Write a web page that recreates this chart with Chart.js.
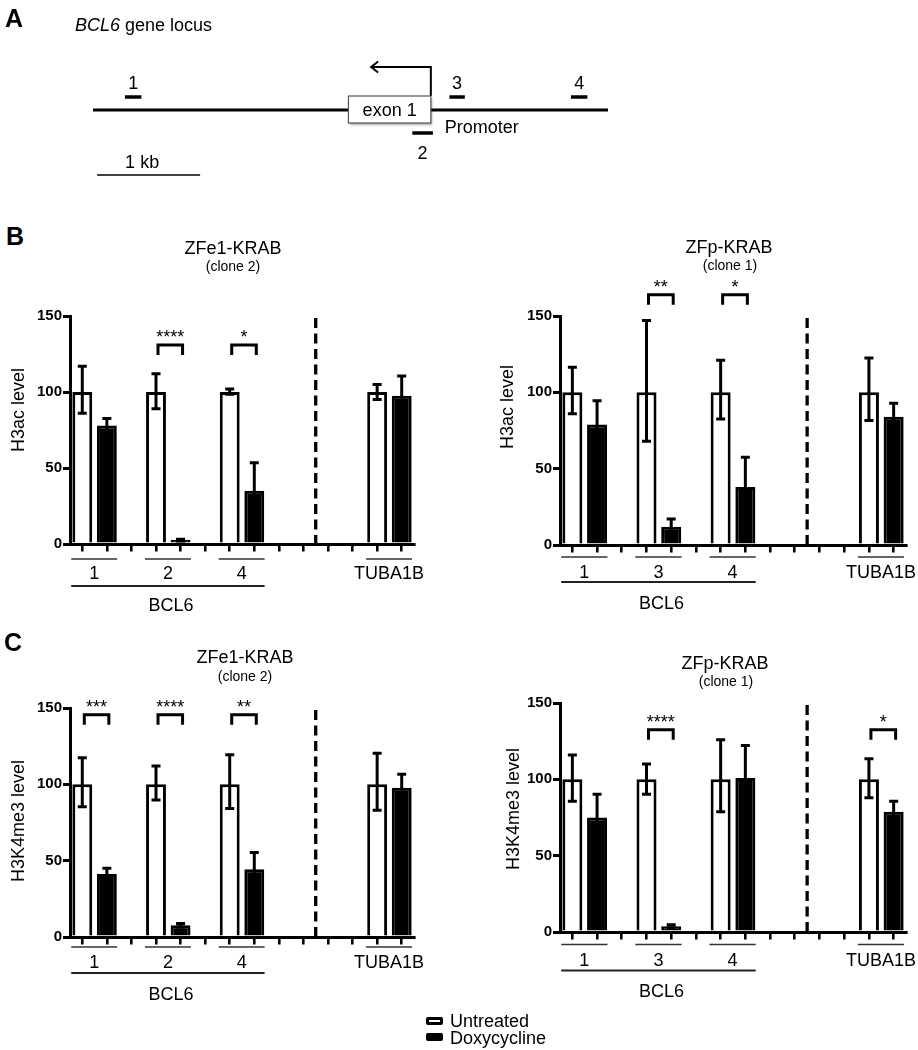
<!DOCTYPE html>
<html>
<head>
<meta charset="utf-8">
<script src="https://cdn.jsdelivr.net/npm/chart.js@4.4.1/dist/chart.umd.min.js"></script>
<style>
  html, body { margin: 0; padding: 0; background: #fff; }
  #fig { position: relative; width: 918px; height: 1050px; overflow: hidden;
         font-family: "Liberation Sans", Arial, Helvetica, sans-serif; color: #000; }
  #fig canvas { position: absolute; }
  .t { position: absolute; white-space: nowrap; transform: translate(-50%, -50%); line-height: 1; z-index: 2; }
  .l { position: absolute; white-space: nowrap; transform: translate(0, -50%); line-height: 1; z-index: 2; }
  .panel { font-weight: bold; font-size: 25px; }
  .title { font-size: 18px; }
  .sub { font-size: 14px; }
  .yt { position: absolute; white-space: nowrap; line-height: 1; font-size: 18px; z-index: 2;
        transform: translate(-50%, -50%) rotate(-90deg); }
  .box { position: absolute; width: 17px; height: 8px; box-sizing: border-box; border: 3px solid #000; border-radius: 2px; z-index: 2; }
</style>
</head>
<body>
<div id="fig">
  <div class="l panel" style="left:5px; top:18px;">A</div>
  <div class="l title" style="left:75px; top:25px;"><i>BCL6</i> gene locus</div>

  <div class="l panel" style="left:6px; top:236px;">B</div>
  <div class="t title" style="left:233px; top:248px;">ZFe1-KRAB</div>
  <div class="t sub" style="left:233px; top:266px;">(clone 2)</div>
  <div class="t title" style="left:729px; top:247px;">ZFp-KRAB</div>
  <div class="t sub" style="left:730px; top:265px;">(clone 1)</div>
  <div class="yt" style="left:18px; top:410px;">H3ac level</div>
  <div class="yt" style="left:507px; top:407px;">H3ac level</div>

  <div class="l panel" style="left:4px; top:642px;">C</div>
  <div class="t title" style="left:245px; top:657px;">ZFe1-KRAB</div>
  <div class="t sub" style="left:245px; top:676px;">(clone 2)</div>
  <div class="t title" style="left:725px; top:663px;">ZFp-KRAB</div>
  <div class="t sub" style="left:726px; top:681px;">(clone 1)</div>
  <div class="yt" style="left:18px; top:821px;">H3K4me3 level</div>
  <div class="yt" style="left:513px; top:809px;">H3K4me3 level</div>

  <div class="box" style="left:426px; top:1017px; background:#fff;"></div>
  <div class="l title" style="left:450px; top:1021px;">Untreated</div>
  <div class="box" style="left:426px; top:1033px; background:#000;"></div>
  <div class="l title" style="left:450px; top:1038px;">Doxycycline</div>
</div>

<script>
// ================= DATA =================
// Panel A: BCL6 locus (kb from left end of drawn region)
const locusSpanKb = [0, 5];
const exonKb = [2.48, 3.28];
const exonLabel = 'exon 1';
const tssKb = 3.28;
const tssArrowTipKb = 2.70;
const ampliconNames = ['1', '2', '3', '4'];
const ampliconStartKb = [0.31, 3.10, 3.46, 4.64];
const ampliconEndKb = [0.47, 3.30, 3.61, 4.80];
const scaleBarKb = [0.04, 1.04];
const scaleBarLabel = '1 kb';
const promoterLabel = 'Promoter';

// Axis ticks shared by all bar panels
const yTicks = [0, 50, 100, 150];
const geneLabel = 'BCL6';
const geneGroupCount = 3; // first three amplicons belong to BCL6

// Panel B left: H3ac, ZFe1-KRAB (clone 2)
const bLeftGroups = ['1', '2', '4', 'TUBA1B'];
const bLeftUntreated = [100, 100, 100, 100];
const bLeftUntreatedErrUp = [17, 12, 2, 5];
const bLeftUntreatedErrDown = [14, 11, 1.5, 5];
const bLeftDox = [78, 2.6, 35, 97.6];
const bLeftDoxErr = [4.5, 0.6, 18.5, 13];
const bLeftSig = ['', '****', '*', ''];

// Panel B right: H3ac, ZFp-KRAB (clone 1)
const bRightGroups = ['1', '3', '4', 'TUBA1B'];
const bRightUntreated = [100, 100, 100, 100];
const bRightUntreatedErrUp = [16.5, 47, 21, 22.5];
const bRightUntreatedErrDown = [14, 32, 17.5, 18.5];
const bRightDox = [79, 12, 38, 84];
const bRightDoxErr = [15.5, 5, 19.5, 8.8];
const bRightSig = ['', '**', '*', ''];

// Panel C left: H3K4me3, ZFe1-KRAB (clone 2)
const cLeftGroups = ['1', '2', '4', 'TUBA1B'];
const cLeftUntreated = [100, 100, 100, 100];
const cLeftUntreatedErrUp = [17.4, 12, 19.3, 20.4];
const cLeftUntreatedErrDown = [14.7, 10.3, 15.8, 17];
const cLeftDox = [41.3, 7.7, 44.4, 97.8];
const cLeftDoxErr = [3.7, 1.1, 11, 8.8];
const cLeftSig = ['***', '****', '**', ''];

// Panel C right: H3K4me3, ZFp-KRAB (clone 1)
const cRightGroups = ['1', '3', '4', 'TUBA1B'];
const cRightUntreated = [100, 100, 100, 100];
const cRightUntreatedErrUp = [16, 10, 26, 13.5];
const cRightUntreatedErrDown = [14.3, 9.8, 21.3, 12];
const cRightDox = [75, 3.7, 100.9, 78.7];
const cRightDoxErr = [15.2, 1.1, 21.3, 7];
const cRightSig = ['', '****', '', '*'];

// ================= LAYOUT =================
const FONT = '"Liberation Sans", Arial, Helvetica, sans-serif';
const SLOT_COUNT = 14;
const GROUP_SLOTS = [0, 3, 6, 12];
const SEPARATOR_SLOT = 9.5;
const PAD_TOP = 60, PAD_BOTTOM = 75, X_AXIS_H = 8, Y_AXIS_W = 70;

const panels = [
  { groups: bLeftGroups, untreated: bLeftUntreated, uUp: bLeftUntreatedErrUp, uDown: bLeftUntreatedErrDown,
    dox: bLeftDox, dErr: bLeftDoxErr, sig: bLeftSig,
    axisX: 70, areaRight: 414, areaTop: 316, areaBottom: 544, canvasRight: 460,
    bracketVal: 131, under: [15, 29, 42, 61] },
  { groups: bRightGroups, untreated: bRightUntreated, uUp: bRightUntreatedErrUp, uDown: bRightUntreatedErrDown,
    dox: bRightDox, dErr: bRightDoxErr, sig: bRightSig,
    axisX: 560, areaRight: 906, areaTop: 316, areaBottom: 545, canvasRight: 918,
    bracketVal: 164, under: [12, 27, 37, 58] },
  { groups: cLeftGroups, untreated: cLeftUntreated, uUp: cLeftUntreatedErrUp, uDown: cLeftUntreatedErrDown,
    dox: cLeftDox, dErr: cLeftDoxErr, sig: cLeftSig,
    axisX: 70, areaRight: 414, areaTop: 708, areaBottom: 937, canvasRight: 460,
    bracketVal: 145.5, under: [10, 25, 36, 57] },
  { groups: cRightGroups, untreated: cRightUntreated, uUp: cRightUntreatedErrUp, uDown: cRightUntreatedErrDown,
    dox: cRightDox, dErr: cRightDoxErr, sig: cRightSig,
    axisX: 560, areaRight: 906, areaTop: 703, areaBottom: 932, canvasRight: 918,
    bracketVal: 132.5, under: [12.5, 28, 38.5, 59] }
];

const fig = document.getElementById('fig');

function toSlots(vals, offset) {
  const a = new Array(SLOT_COUNT).fill(null);
  vals.forEach((v, i) => { a[GROUP_SLOTS[i] + offset] = v; });
  return a;
}

function annotPlugin(p) {
  return {
    id: 'figAnnot',
    afterDatasetsDraw(chart) {
      const ctx = chart.ctx, xs = chart.scales.x, ys = chart.scales.y, area = chart.chartArea;
      const slotW = xs.getPixelForValue(1) - xs.getPixelForValue(0);
      ctx.save();
      ctx.strokeStyle = '#000';
      ctx.fillStyle = '#000';

      // dashed separator between BCL6 and TUBA1B
      const sx = xs.getPixelForValue(SEPARATOR_SLOT);
      ctx.setLineDash([10, 5.5]);
      ctx.lineWidth = 3.3;
      ctx.beginPath();
      ctx.moveTo(sx, ys.getPixelForValue(yTicks[yTicks.length - 1]) + 2);
      ctx.lineTo(sx, area.bottom);
      ctx.stroke();
      ctx.setLineDash([]);

      // error bars
      ctx.lineWidth = 3;
      const err = (x, v, up, down) => {
        const yT = ys.getPixelForValue(v + up);
        const yB = ys.getPixelForValue(Math.max(0, v - down));
        ctx.beginPath();
        ctx.moveTo(x, yT); ctx.lineTo(x, yB);
        ctx.moveTo(x - 4.5, yT); ctx.lineTo(x + 4.5, yT);
        ctx.moveTo(x - 4.5, yB); ctx.lineTo(x + 4.5, yB);
        ctx.stroke();
      };
      p.groups.forEach((g, i) => {
        const s = GROUP_SLOTS[i];
        err(xs.getPixelForValue(s), p.untreated[i], p.uUp[i], p.uDown[i]);
        err(xs.getPixelForValue(s + 1), p.dox[i], p.dErr[i], p.dErr[i]);
      });

      // significance brackets
      ctx.lineWidth = 3;
      ctx.lineJoin = 'miter';
      ctx.font = '18px ' + FONT;
      ctx.textAlign = 'center';
      ctx.textBaseline = 'alphabetic';
      const yB = ys.getPixelForValue(p.bracketVal);
      p.sig.forEach((s, i) => {
        if (!s) return;
        const x1 = xs.getPixelForValue(GROUP_SLOTS[i]) + 2;
        const x2 = xs.getPixelForValue(GROUP_SLOTS[i] + 1) + 2;
        ctx.beginPath();
        ctx.moveTo(x1, yB + 10); ctx.lineTo(x1, yB); ctx.lineTo(x2, yB); ctx.lineTo(x2, yB + 10);
        ctx.stroke();
        ctx.fillText(s, (x1 + x2) / 2, yB - 1.5);
      });

      // group underlines and labels
      const bottom = area.bottom;
      const spans = p.groups.map((g, i) => [
        xs.getPixelForValue(GROUP_SLOTS[i]) - 0.45 * slotW,
        xs.getPixelForValue(GROUP_SLOTS[i] + 1) + 0.42 * slotW
      ]);
      ctx.strokeStyle = '#333';
      ctx.lineWidth = 1.6;
      ctx.textBaseline = 'middle';
      spans.forEach(([a, b], i) => {
        ctx.beginPath();
        ctx.moveTo(a, bottom + p.under[0]); ctx.lineTo(b, bottom + p.under[0]);
        ctx.stroke();
        ctx.fillText(p.groups[i], (a + b) / 2, bottom + p.under[1] + 1);
      });
      const ga = spans[0][0], gb = spans[geneGroupCount - 1][1];
      ctx.strokeStyle = '#222';
      ctx.lineWidth = 1.8;
      ctx.beginPath();
      ctx.moveTo(ga, bottom + p.under[2]); ctx.lineTo(gb, bottom + p.under[2]);
      ctx.stroke();
      ctx.fillText(geneLabel, (ga + gb) / 2 + 3, bottom + p.under[3] + 1);
      ctx.restore();
    }
  };
}

panels.forEach((p) => {
  const cv = document.createElement('canvas');
  const left = p.axisX - Y_AXIS_W;
  const top = p.areaTop - PAD_TOP;
  const w = p.canvasRight - left;
  const h = (p.areaBottom - p.areaTop) + PAD_TOP + PAD_BOTTOM;
  cv.width = w; cv.height = h;
  cv.style.left = left + 'px'; cv.style.top = top + 'px';
  cv.style.width = w + 'px'; cv.style.height = h + 'px';
  fig.appendChild(cv);

  new Chart(cv, {
    type: 'bar',
    data: {
      labels: Array.from({ length: SLOT_COUNT }, (_, i) => 's' + i),
      datasets: [
        { label: 'Untreated', data: toSlots(p.untreated, 0), backgroundColor: '#fff', borderColor: '#000',
          borderWidth: 3, grouped: false, categoryPercentage: 1, barPercentage: 0.81 },
        { label: 'Doxycycline', data: toSlots(p.dox, 1), backgroundColor: '#000', borderColor: '#000',
          borderWidth: 3, grouped: false, categoryPercentage: 1, barPercentage: 0.81 }
      ]
    },
    options: {
      responsive: false, animation: false, devicePixelRatio: 1, events: [],
      layout: { padding: { top: PAD_TOP, bottom: PAD_BOTTOM - X_AXIS_H, left: 0, right: p.canvasRight - p.areaRight } },
      plugins: { legend: { display: false }, title: { display: false }, tooltip: { enabled: false } },
      scales: {
        x: {
          type: 'category', offset: true, z: 1,
          grid: { display: true, offset: false, drawOnChartArea: false, drawTicks: true, tickLength: 7.5, lineWidth: 2.6, color: '#000' },
          border: { display: true, width: 3, color: '#000' },
          ticks: { display: false },
          afterFit(s) { s.height = X_AXIS_H; }
        },
        y: {
          min: yTicks[0], max: yTicks[yTicks.length - 1], z: 1,
          ticks: { stepSize: yTicks[1] - yTicks[0], color: '#000', padding: 1,
                   font: { family: FONT, size: 15, weight: 'bold' } },
          grid: { drawOnChartArea: false, tickLength: 7, lineWidth: 3, color: '#000' },
          border: { display: true, width: 3, color: '#000' },
          afterFit(s) { s.width = Y_AXIS_W; }
        }
      }
    },
    plugins: [annotPlugin(p)]
  });
});

// ================= PANEL A (locus) =================
const LOCUS = { originX: 93, pxPerKb: 103, width: 918, height: 200,
  backboneY: 110, ampAboveY: 97, ampBelowY: 133, ampRow: ['above', 'below', 'above', 'above'],
  arrowY: 67, exonTop: 96, exonBottom: 123, scaleBarY: 175 };

(function () {
  const cv = document.createElement('canvas');
  cv.width = LOCUS.width; cv.height = LOCUS.height;
  cv.style.left = '0px'; cv.style.top = '0px';
  cv.style.width = LOCUS.width + 'px'; cv.style.height = LOCUS.height + 'px';
  fig.appendChild(cv);

  const seg = (pts, w) => ({ data: pts, showLine: true, borderColor: '#000', borderWidth: w,
    pointRadius: 0, tension: 0, borderCapStyle: 'butt', borderJoinStyle: 'miter', fill: false });
  const rowY = (i) => LOCUS.ampRow[i] === 'above' ? LOCUS.ampAboveY : LOCUS.ampBelowY;

  const datasets = [
    seg([{ x: locusSpanKb[0], y: LOCUS.backboneY }, { x: locusSpanKb[1], y: LOCUS.backboneY }], 3),
    ...ampliconNames.map((n, i) => seg([{ x: ampliconStartKb[i], y: rowY(i) }, { x: ampliconEndKb[i], y: rowY(i) }], 3.5)),
    seg([{ x: scaleBarKb[0], y: LOCUS.scaleBarY }, { x: scaleBarKb[1], y: LOCUS.scaleBarY }], 1.5),
    seg([{ x: tssKb, y: LOCUS.exonTop }, { x: tssKb, y: LOCUS.arrowY }, { x: tssArrowTipKb, y: LOCUS.arrowY }], 2)
  ];

  const locusPlugin = {
    id: 'locus',
    afterDatasetsDraw(chart) {
      const ctx = chart.ctx, xs = chart.scales.x, ys = chart.scales.y;
      ctx.save();
      // arrow head
      const tx = xs.getPixelForValue(tssArrowTipKb), ty = ys.getPixelForValue(LOCUS.arrowY);
      ctx.strokeStyle = '#000'; ctx.lineWidth = 2;
      ctx.beginPath();
      ctx.moveTo(tx + 7, ty - 5.5); ctx.lineTo(tx, ty); ctx.lineTo(tx + 7, ty + 5.5);
      ctx.stroke();
      // exon box
      const ex1 = xs.getPixelForValue(exonKb[0]), ex2 = xs.getPixelForValue(exonKb[1]);
      const ey1 = ys.getPixelForValue(LOCUS.exonTop), ey2 = ys.getPixelForValue(LOCUS.exonBottom);
      ctx.save();
      ctx.shadowColor = 'rgba(0,0,0,0.35)'; ctx.shadowOffsetX = 1.5; ctx.shadowOffsetY = 1.5; ctx.shadowBlur = 2;
      ctx.fillStyle = '#fff';
      ctx.fillRect(ex1, ey1, ex2 - ex1, ey2 - ey1);
      ctx.restore();
      ctx.strokeStyle = '#555'; ctx.lineWidth = 1.2;
      ctx.strokeRect(ex1, ey1, ex2 - ex1, ey2 - ey1);
      ctx.fillStyle = '#000';
      ctx.font = '18px ' + FONT;
      ctx.textAlign = 'center'; ctx.textBaseline = 'middle';
      ctx.fillText(exonLabel, (ex1 + ex2) / 2, (ey1 + ey2) / 2 + 1.5);
      // amplicon labels
      ampliconNames.forEach((n, i) => {
        const cx = (xs.getPixelForValue(ampliconStartKb[i]) + xs.getPixelForValue(ampliconEndKb[i])) / 2;
        const cy = LOCUS.ampRow[i] === 'above' ? ys.getPixelForValue(LOCUS.ampAboveY) - 13 : ys.getPixelForValue(LOCUS.ampBelowY) + 21;
        ctx.fillText(n, cx, cy);
      });
      // promoter label
      ctx.textAlign = 'left';
      ctx.fillText(promoterLabel, xs.getPixelForValue(tssKb) + 14, ys.getPixelForValue(LOCUS.backboneY) + 18);
      // scale bar label
      ctx.fillText(scaleBarLabel, xs.getPixelForValue(scaleBarKb[0]) + 28, ys.getPixelForValue(LOCUS.scaleBarY) - 12);
      ctx.restore();
    }
  };

  new Chart(cv, {
    type: 'scatter',
    data: { datasets },
    options: {
      responsive: false, animation: false, devicePixelRatio: 1, events: [],
      layout: { padding: 0 },
      plugins: { legend: { display: false }, tooltip: { enabled: false } },
      scales: {
        x: { type: 'linear', display: false, min: -LOCUS.originX / LOCUS.pxPerKb, max: (LOCUS.width - LOCUS.originX) / LOCUS.pxPerKb },
        y: { type: 'linear', display: false, min: 0, max: LOCUS.height, reverse: true }
      }
    },
    plugins: [locusPlugin]
  });
})();
</script>
</body>
</html>
